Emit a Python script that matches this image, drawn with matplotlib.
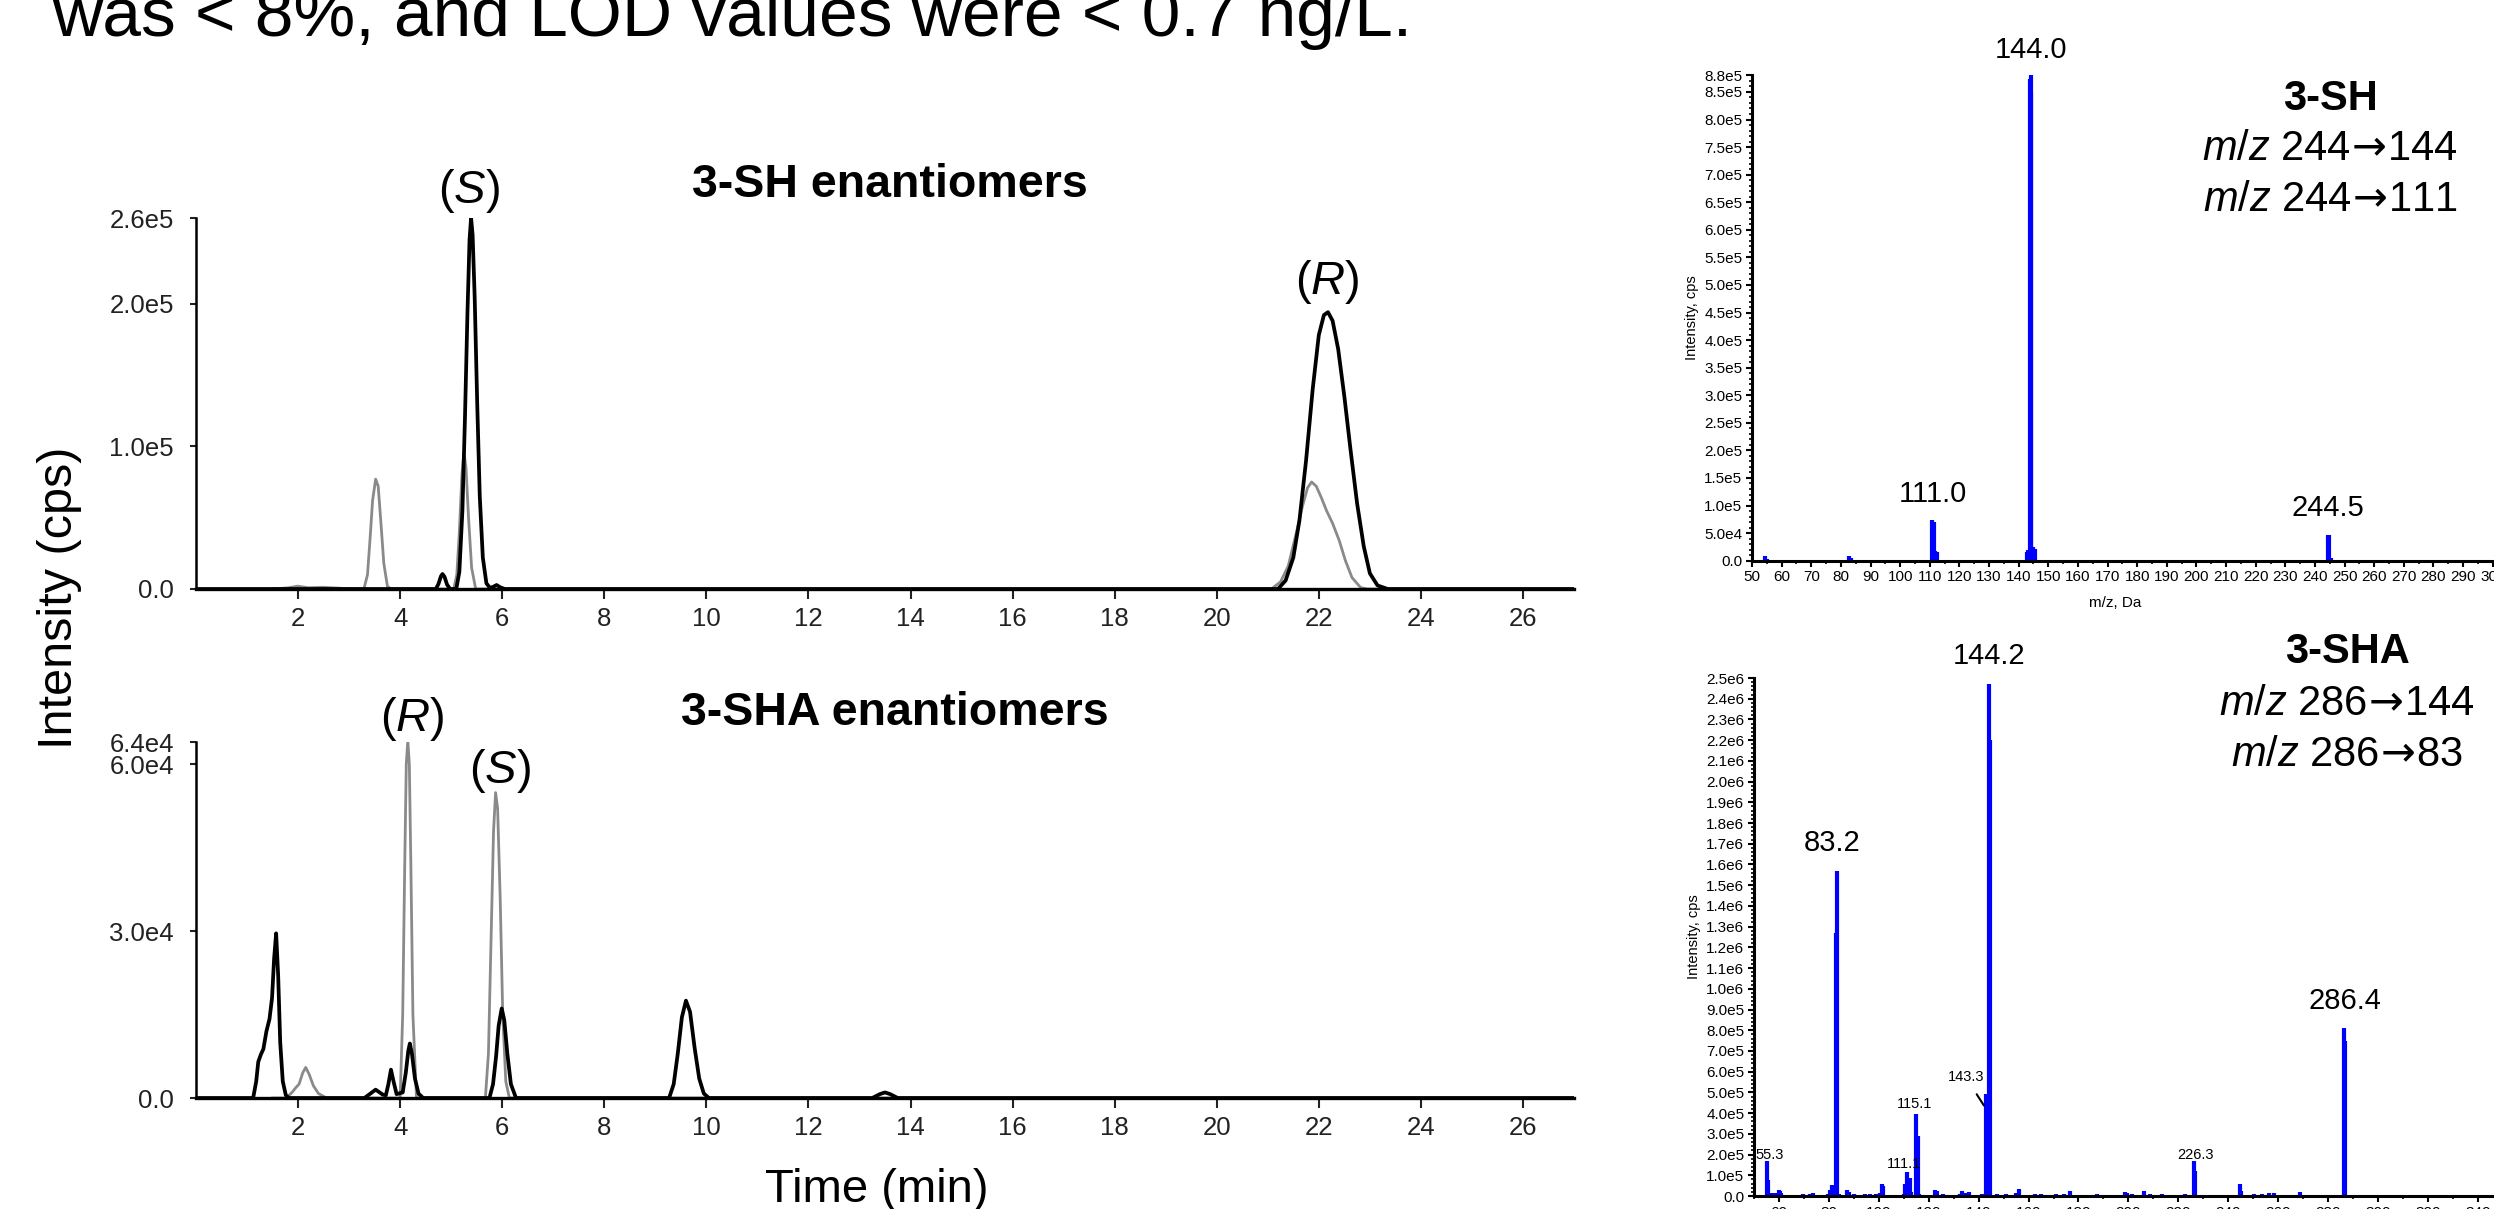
import math
import matplotlib
matplotlib.use('Agg')
import matplotlib.pyplot as plt
import numpy as np

plt.rcParams['font.family'] = ['Liberation Sans', 'DejaVu Sans']
plt.rcParams['mathtext.fontset'] = 'custom'
plt.rcParams['mathtext.rm'] = 'Liberation Sans'
plt.rcParams['mathtext.it'] = 'Liberation Sans:italic'
plt.rcParams['mathtext.bf'] = 'Liberation Sans:bold'
plt.rcParams['mathtext.sf'] = 'DejaVu Sans'

W, H = 2494, 1209

# ---- chromatogram 3-SH (time min, intensity cps) ----
sh_black_t = [0, 4.70, 4.75, 4.80, 4.83, 4.87, 4.92, 4.98,
              5.10, 5.16, 5.22, 5.27, 5.32, 5.36, 5.39, 5.42, 5.46, 5.51, 5.56, 5.62, 5.69, 5.76,
              5.82, 5.89, 5.96, 6.05,
              21.20, 21.35, 21.50, 21.62, 21.75, 21.88, 22.00, 22.10, 22.18, 22.27, 22.38,
              22.50, 22.62, 22.75, 22.88, 23.00, 23.15, 23.35, 27]
sh_black_i = [0, 0, 3500, 9000, 10500, 8500, 3000, 0,
              0, 12000, 55000, 120000, 195000, 245000, 260000, 248000, 205000, 130000, 65000,
              22000, 4000, 800,
              1500, 2800, 1200, 0,
              0, 6000, 22000, 48000, 90000, 140000, 178000, 192000, 194000, 188000, 168000,
              135000, 98000, 60000, 30000, 11000, 2500, 0, 0]
sh_gray_t = [1.5, 1.8, 1.99, 2.2, 2.5, 2.8, 3.0,
             3.29, 3.36, 3.41, 3.46, 3.52, 3.57, 3.62, 3.68, 3.75, 3.82,
             5.05, 5.11, 5.16, 5.21, 5.25, 5.29, 5.34, 5.40, 5.48,
             21.07, 21.25, 21.40, 21.55, 21.68, 21.78, 21.86, 21.95, 22.05, 22.15, 22.27,
             22.40, 22.52, 22.65, 22.82, 22.95, 27]
sh_gray_i = [0, 800, 2000, 900, 1200, 600, 0,
             0, 10000, 35000, 62000, 77000, 72000, 48000, 18000, 2000, 0,
             0, 10000, 40000, 80000, 96000, 85000, 50000, 15000, 0,
             0, 5000, 16000, 38000, 58000, 71000, 75000, 72000, 64000, 55000, 46000,
             34000, 20000, 8000, 1000, 0, 0]

# ---- chromatogram 3-SHA ----
sha_black_t = [0, 1.12, 1.18, 1.22, 1.27, 1.32, 1.38, 1.44, 1.49, 1.53, 1.57, 1.61, 1.65,
               1.70, 1.76, 1.82,
               3.3, 3.52, 3.66, 3.72, 3.77, 3.82, 3.87, 3.93,
               4.05, 4.11, 4.16, 4.19, 4.23, 4.29, 4.36, 4.45,
               5.75, 5.82, 5.88, 5.93, 5.99, 6.04, 6.10, 6.17, 6.27,
               9.27, 9.36, 9.44, 9.52, 9.60, 9.68, 9.77, 9.86, 9.95, 10.05,
               13.25, 13.4, 13.5, 13.6, 13.75, 27]
sha_black_i = [0, 0, 3000, 6500, 7800, 8800, 12000, 14200, 18000, 25000, 29600, 22000, 10000,
               3000, 500, 0,
               0, 1500, 600, 500, 2500, 5100, 3000, 700,
               1000, 4500, 8500, 9800, 8000, 3500, 800, 0,
               0, 2500, 7500, 13000, 16100, 14000, 8000, 2500, 0,
               0, 2500, 8000, 14500, 17500, 15500, 9000, 3500, 800, 0,
               0, 700, 1000, 700, 0, 0]
sha_gray_t = [1.5, 1.77, 1.88, 1.95, 2.02, 2.09, 2.15, 2.22, 2.30, 2.40, 2.56,
              4.00, 4.05, 4.09, 4.12, 4.15, 4.18, 4.21, 4.25, 4.32,
              5.67, 5.73, 5.78, 5.83, 5.87, 5.91, 5.96, 6.01, 6.07, 6.14, 27]
sha_gray_i = [0, 0, 1000, 1800, 2500, 4500, 5500, 4200, 2200, 800, 0,
              0, 15000, 42000, 60000, 64300, 60000, 42000, 15000, 0,
              0, 8000, 28000, 48000, 54900, 52000, 36000, 15000, 3000, 0, 0]

sh_yticks = [0, 1.0e5, 2.0e5, 2.6e5]
sh_ylabels = ['0.0', '1.0e5', '2.0e5', '2.6e5']
sha_yticks = [0, 3.0e4, 6.0e4, 6.4e4]
sha_ylabels = ['0.0', '3.0e4', '6.0e4', '6.4e4']
time_ticks = list(range(2, 27, 2))

# ---- product ion spectra (m/z, intensity) ----
ms1_mz = [54.4, 55.0, 58.0, 62.0, 67.0, 75.0, 80.0, 82.6, 83.4, 97.0, 103.0,
          110.9, 111.4, 111.8, 112.6, 126.0, 138.0, 142.8, 143.3, 143.8, 144.0,
          144.3, 145.0, 145.5, 170.0, 244.5, 244.9, 245.5]
ms1_int = [8e3, 3e3, 2e3, 2e3, 2e3, 1.5e3, 2e3, 8e3, 4e3, 1.5e3, 1.5e3,
           7.3e4, 7.0e4, 1.8e4, 1.5e4, 1.5e3, 2e3, 1.5e4, 2e4, 8.74e5, 8.8e5,
           8.5e5, 2.5e4, 2.2e4, 2e3, 4.6e4, 4.6e4, 5e3]

ms2_mz = [55.3, 55.7, 56.5, 57.5, 58.5, 60.0, 60.5, 61.0, 69.5, 72.5, 73.5,
          79.5, 80.3, 81.2, 82.0, 83.0, 83.3, 84.0, 87.2, 88.0, 90.0, 94.5,
          96.5, 99.0, 100.5, 101.3, 101.8, 110.0, 110.6, 111.1, 111.8, 112.5,
          113.0, 115.1, 115.6, 116.2, 122.7, 123.5, 125.8, 132.5, 133.3, 134.5,
          136.2, 141.5, 142.8, 143.3, 143.6, 144.2, 144.6, 147.2, 151.0, 154.8,
          156.3, 162.5, 165.0, 171.0, 174.3, 176.5, 187.3, 198.5, 199.5, 201.5,
          206.3, 208.5, 213.5, 222.5, 226.3, 226.7, 244.6, 245.2, 250.5, 253.5,
          256.5, 258.5, 268.6, 286.4, 286.8]
ms2_int = [1.67e5, 7.7e4, 1.5e4, 1.5e4, 1.5e4, 3e4, 2.5e4, 1.5e4, 1e4, 1.2e4, 1.5e4,
           1e4, 3e4, 5.5e4, 5e4, 1.27e6, 1.57e6, 1e4, 3e4, 2e4, 1e4, 1e4,
           1e4, 1e4, 1.5e4, 6e4, 5e4, 1e4, 6e4, 1.17e5, 8.5e4, 8.8e4,
           2e4, 3.97e5, 2.9e5, 1e4, 3e4, 2.5e4, 1.2e4, 1.2e4, 2.5e4, 1.5e4,
           2e4, 1e4, 4.9e5, 4.9e5, 3.6e5, 2.47e6, 2.2e6, 1.2e4, 1e4, 1.5e4,
           3.5e4, 1.2e4, 1.2e4, 1e4, 1e4, 2.5e4, 1e4, 2e4, 1.5e4, 1e4,
           2.5e4, 1e4, 1e4, 1.2e4, 1.67e5, 1.2e5, 5.9e4, 2.5e4, 1.2e4, 1.2e4,
           1.5e4, 1.5e4, 2e4, 8.1e5, 7.5e5]

ms1_yticks = list(np.arange(0, 8.51e5, 5e4)) + [8.8e5]
ms2_yticks = list(np.arange(0, 2.51e6, 1e5))
ms1_xticks = list(range(50, 301, 10))
ms2_xticks = list(range(60, 341, 20))


def sci(v):
    if v == 0:
        return '0.0'
    e = int(math.floor(math.log10(v) + 1e-9))
    return f'{v / 10 ** e:.1f}e{e}'


def px_axes(left, top, right, bottom):
    return [left / W, 1 - bottom / H, (right - left) / W, (bottom - top) / H]


fig = plt.figure(figsize=(W / 100, H / 100), dpi=100)


def ftext(x, y, s, **kw):
    fig.text(x / W, 1 - y / H, s, **kw)


ftext(52, 36, 'was < 8%, and LOD values were < 0.7 ng/L.', fontsize=50,
      ha='left', va='baseline')

# ---- chromatograms ----
ax_sh = fig.add_axes(px_axes(196, 218, 1574, 589))
ax_sha = fig.add_axes(px_axes(196, 742, 1574, 1098))

ax_sh.plot(sh_gray_t, sh_gray_i, color='#8a8a8a', lw=2.0, zorder=2)
ax_sh.plot(sh_black_t, sh_black_i, color='black', lw=2.7, zorder=3)
ax_sha.plot(sha_gray_t, sha_gray_i, color='#8a8a8a', lw=2.0, zorder=2)
ax_sha.plot(sha_black_t, sha_black_i, color='black', lw=2.7, zorder=3)

for ax, yt, yl, top in [(ax_sh, sh_yticks, sh_ylabels, 2.6e5),
                        (ax_sha, sha_yticks, sha_ylabels, 6.4e4)]:
    ax.set_xlim(0, 27)
    ax.set_ylim(0, top)
    ax.set_xticks(time_ticks)
    ax.set_yticks(yt)
    ax.set_yticklabels(yl)
    for s in ['top', 'right']:
        ax.spines[s].set_visible(False)
    ax.spines['left'].set_linewidth(1.8)
    ax.spines['bottom'].set_linewidth(2.4)
    ax.tick_params(axis='x', labelsize=18.5, length=7, width=1.5, pad=6, colors='#222222')
    ax.tick_params(axis='y', labelsize=18.5, length=4, width=1.5, pad=12, colors='#222222')
    ax.patch.set_alpha(0)

ax_sh.text(13.6, 2.83e5, '3-SH enantiomers', fontsize=33.5, fontweight='bold',
           ha='center', va='center')
ax_sha.text(13.7, 6.92e4, '3-SHA enantiomers', fontsize=33.5, fontweight='bold',
            ha='center', va='center')
ax_sh.text(5.35, 2.79e5, r'($\mathit{S}$)', fontsize=34, ha='center', va='center')
ax_sh.text(22.17, 2.15e5, r'($\mathit{R}$)', fontsize=34, ha='center', va='center')
ax_sha.text(4.24, 6.82e4, r'($\mathit{R}$)', fontsize=34, ha='center', va='center')
ax_sha.text(5.95, 5.88e4, r'($\mathit{S}$)', fontsize=34, ha='center', va='center')

ftext(60, 598, 'Intensity (cps)', fontsize=35, rotation=90, ha='center', va='center')
ftext(877, 1190, 'Time (min)', fontsize=34, ha='center', va='center')

# ---- spectra ----
ax_ms1 = fig.add_axes(px_axes(1752, 75.4, 1752 + 270 * 2.963, 560.7))
ax_ms2 = fig.add_axes(px_axes(1754, 678, 1754 + 310 * 2.496, 1196))

ax_ms1.vlines(ms1_mz, 0, ms1_int, colors='#0000ff', lw=3.0)
ax_ms2.vlines(ms2_mz, 0, ms2_int, colors='#0000ff', lw=3.0)

for ax, xl, yt, xt, xminor, yminor in [
        (ax_ms1, (50, 320), ms1_yticks, ms1_xticks, 5, 1e4),
        (ax_ms2, (50, 360), ms2_yticks, ms2_xticks, 10, 2e4)]:
    ax.set_xlim(*xl)
    ax.set_ylim(0, yt[-1])
    ax.set_yticks(yt)
    ax.set_yticklabels([sci(v) for v in yt])
    ax.set_xticks(xt)
    ax.set_xticks(np.arange(xl[0], xl[1] + 0.1, xminor), minor=True)
    ax.set_yticks(np.arange(0, yt[-1], yminor), minor=True)
    for s in ['top', 'right']:
        ax.spines[s].set_visible(False)
    ax.spines['left'].set_linewidth(2.2)
    ax.spines['bottom'].set_linewidth(2.2)
    ax.tick_params(axis='both', which='major', labelsize=11, length=4, width=1.5, pad=3)
    ax.tick_params(axis='both', which='minor', length=2.5, width=1.2)
    ax.patch.set_alpha(0)
    ax.set_ylabel('Intensity, cps', fontsize=10.5, labelpad=4)

ftext(2115, 603, 'm/z, Da', fontsize=11, ha='center', va='center')

ax_ms1.text(144.0, 9.26e5, '144.0', fontsize=21, ha='center', va='center')
ax_ms1.text(111.0, 1.21e5, '111.0', fontsize=21, ha='center', va='center')
ax_ms1.text(244.5, 9.57e4, '244.5', fontsize=21, ha='center', va='center')

ax_ms2.text(144.2, 2.606e6, '144.2', fontsize=21, ha='center', va='center')
ax_ms2.text(81.3, 1.704e6, '83.2', fontsize=21, ha='center', va='center')
ax_ms2.text(286.8, 9.42e5, '286.4', fontsize=21, ha='center', va='center')
ax_ms2.text(114.5, 4.42e5, '115.1', fontsize=10.5, ha='center', va='center')
ax_ms2.text(110.1, 1.54e5, '111.1', fontsize=10.5, ha='center', va='center')
ax_ms2.text(56.4, 1.97e5, '55.3', fontsize=10.5, ha='center', va='center')
ax_ms2.text(226.9, 1.97e5, '226.3', fontsize=10.5, ha='center', va='center')
ax_ms2.annotate('143.3', xy=(142.1, 4.37e5), xytext=(134.9, 5.72e5), fontsize=10.5,
                ha='center', va='center',
                arrowprops=dict(arrowstyle='-', color='black', lw=1.5, shrinkA=6, shrinkB=0))

# transition labels; negative spaces trim mathtext's relation spacing
arrow = r'$\!\mathsf{\rightarrow}\!$'
ftext(2330, 99, '3-SH', fontsize=30, fontweight='bold', ha='center', va='center')
ftext(2330, 149, r'$\mathit{m/z}$ 244' + arrow + '144', fontsize=30, ha='center', va='center')
ftext(2330, 200, r'$\mathit{m/z}$ 244' + arrow + '111', fontsize=30, ha='center', va='center')
ftext(2347, 652, '3-SHA', fontsize=30, fontweight='bold', ha='center', va='center')
ftext(2347, 704, r'$\mathit{m/z}$ 286' + arrow + '144', fontsize=30, ha='center', va='center')
ftext(2347, 755, r'$\mathit{m/z}$ 286' + arrow + '83', fontsize=30, ha='center', va='center')

fig.savefig('out.png', dpi=100)
